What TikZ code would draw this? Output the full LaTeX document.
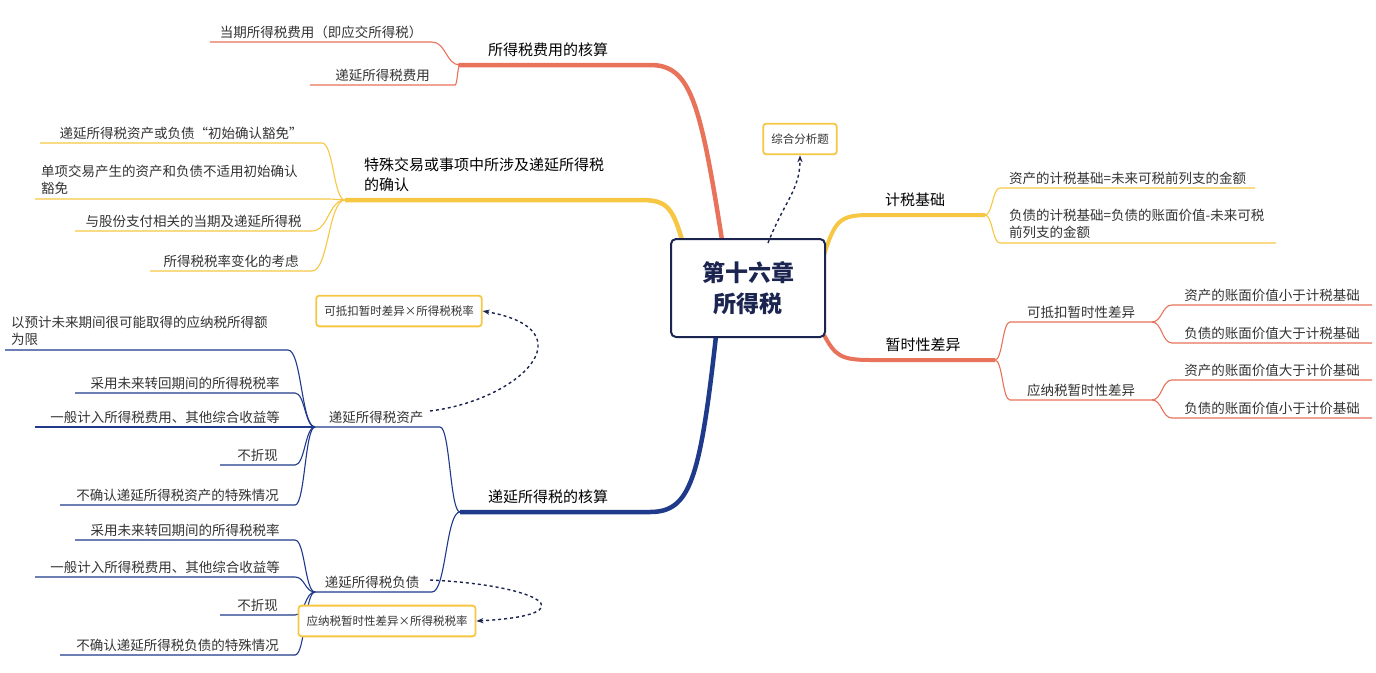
\documentclass[tikz,border=0pt]{standalone}
\usepackage{fontspec}
\setmainfont{Noto Sans CJK SC}
\usetikzlibrary{arrows.meta}
\definecolor{org}{HTML}{E8735A}
\definecolor{yel}{HTML}{F7C744}
\definecolor{nav}{HTML}{1F3A8A}
\definecolor{bx}{HTML}{1B2550}
\definecolor{txt}{HTML}{333333}
\tikzset{
 lbl/.style={font=\fontsize{13.5}{17}\selectfont, text=txt, inner sep=1pt},
 big/.style={font=\fontsize{15}{20}\selectfont, text=black, inner sep=1pt},
 ybox/.style={draw=yel, line width=1.8pt, rounded corners=3pt, fill=white, font=\fontsize{11.5}{14}\selectfont, text=txt, inner xsep=8pt, inner ysep=10pt},
 dsh/.style={dashed, line width=1.4pt, draw=bx, -{Stealth[length=7pt]}},
}
\newcommand\LL[7]{%
 \pgfmathsetmacro\mx{(#2+#6)/2}\pgfmathsetmacro\cx{(#5+#6)/2}%
 \draw[#1,line width=1.1pt] (#2,#3) .. controls (\mx,#3) and (\mx,#4) .. (#6,#4) -- (#5,#4);
 \node[lbl,anchor=south] at (\cx,#4-2) {#7};}
\newcommand\LLtwo[7]{%
 \pgfmathsetmacro\mx{(#2+#6)/2}%
 \draw[#1,line width=1.1pt] (#2,#3) .. controls (\mx,#3) and (\mx,#4) .. (#6,#4) -- (#5,#4);
 \node[lbl,anchor=south west,align=left] at (#5+5,#4-3) {#7};}
\newcommand\RL[7]{%
 \pgfmathsetmacro\mx{(#2+#5)/2}\pgfmathsetmacro\cx{(#5+#6)/2}%
 \draw[#1,line width=1.1pt] (#2,#3) .. controls (\mx,#3) and (\mx,#4) .. (#5,#4) -- (#6,#4);
 \node[lbl,anchor=south] at (\cx,#4-2) {#7};}
\newcommand\RLtwo[7]{%
 \pgfmathsetmacro\mx{(#2+#5)/2}%
 \draw[#1,line width=1.1pt] (#2,#3) .. controls (\mx,#3) and (\mx,#4) .. (#5,#4) -- (#6,#4);
 \node[lbl,anchor=south west,align=left] at (#5+8,#4-3) {#7};}
\begin{document}
\begin{tikzpicture}[x=1pt,y=-1pt]
\useasboundingbox (0,0) rectangle (1376,672);
\fill[white] (0,0) rectangle (1376,672);
\draw[org,line width=4.5pt,line cap=round] (722,240) .. controls (700,100) and (690,65) .. (650,65) -- (460,65);
\draw[yel,line width=4.5pt] (682,240) .. controls (672,205) and (665,200) .. (640,200) -- (345,200);
\draw[nav,line width=4.5pt] (716,336) .. controls (700,480) and (690,512) .. (650,512) -- (460,512);
\draw[yel,line width=4pt] (824,255) .. controls (835,220) and (840,215) .. (870,215) -- (985,215);
\draw[org,line width=4pt] (824,335) .. controls (835,355) and (840,360) .. (870,360) -- (995,360);
\node[big,anchor=south] (b1) at (548,58) {所得税费用的核算};
\node[big,anchor=south west,align=left] (b2) at (363,193) {特殊交易或事项中所涉及递延所得税\\的确认};
\node[big,anchor=south] (b3) at (548,505) {递延所得税的核算};
\node[big,anchor=south] (b4) at (915,208) {计税基础};
\node[big,anchor=south] (b5) at (923,353) {暂时性差异};
\LL{org}{460}{65}{42}{210}{432}{当期所得税费用（即应交所得税）}
\LL{org}{460}{65}{85}{310}{455}{递延所得税费用}
\LL{yel}{345}{200}{143}{40}{322}{递延所得税资产或负债“初始确认豁免”}
\LLtwo{yel}{345}{200}{199}{35}{330}{单项交易产生的资产和负债不适用初始确认\\豁免}
\LL{yel}{345}{200}{231}{75}{312}{与股份支付相关的当期及递延所得税}
\LL{yel}{345}{200}{271}{150}{312}{所得税税率变化的考虑}
\LL{nav}{460}{512}{427}{312}{440}{递延所得税资产}
\LL{nav}{460}{512}{592}{312}{432}{递延所得税负债}
\LLtwo{nav}{315}{427}{350}{5}{288}{以预计未来期间很可能取得的应纳税所得额\\为限}
\LL{nav}{315}{427}{393}{75}{295}{采用未来转回期间的所得税税率}
\LL{nav}{315}{427}{427}{35}{295}{一般计入所得税费用、其他综合收益等}
\LL{nav}{315}{427}{465}{220}{295}{不折现}
\LL{nav}{315}{427}{505}{60}{295}{不确认递延所得税资产的特殊情况}
\LL{nav}{315}{592}{540}{75}{295}{采用未来转回期间的所得税税率}
\LL{nav}{315}{592}{577}{35}{295}{一般计入所得税费用、其他综合收益等}
\LL{nav}{315}{592}{615}{220}{295}{不折现}
\LL{nav}{315}{592}{655}{60}{295}{不确认递延所得税负债的特殊情况}
\RL{yel}{985}{215}{188}{1000}{1255}{资产的计税基础=未来可税前列支的金额}
\RLtwo{yel}{985}{215}{243}{1000}{1276}{负债的计税基础=负债的账面价值-未来可税\\前列支的金额}
\RL{org}{995}{360}{322}{1010}{1152}{可抵扣暂时性差异}
\RL{org}{995}{360}{400}{1010}{1152}{应纳税暂时性差异}
\RL{org}{1152}{322}{305}{1172}{1372}{资产的账面价值小于计税基础}
\RL{org}{1152}{322}{343}{1172}{1372}{负债的账面价值大于计税基础}
\RL{org}{1152}{400}{380}{1172}{1372}{资产的账面价值大于计价基础}
\RL{org}{1152}{400}{418}{1172}{1372}{负债的账面价值小于计价基础}
\node[ybox] (k1) at (800,139) {综合分析题};
\node[ybox] (k2) at (399,311) {可抵扣暂时差异×所得税税率};
\node[ybox] (k3) at (387,621) {应纳税暂时性差异×所得税税率};
\node[draw=bx,line width=2pt,rounded corners=5pt,fill=white,minimum width=154pt,minimum height=98pt,align=center,font=\fontsize{23}{31}\selectfont\bfseries,text=bx] (c) at (748,288) {第十六章\\所得税};
\coordinate (d1) at (768,243);
\draw[dsh] (d1) .. controls (785,200) and (800,190) .. (k1.south);
\coordinate (d2) at (430,411);
\draw[dsh] (d2) .. controls (520,400) and (590,330) .. (k2.east);
\coordinate (d3) at (430,580);
\draw[dsh] (d3) .. controls (540,585) and (590,615) .. (k3.east);
\end{tikzpicture}
\end{document}
